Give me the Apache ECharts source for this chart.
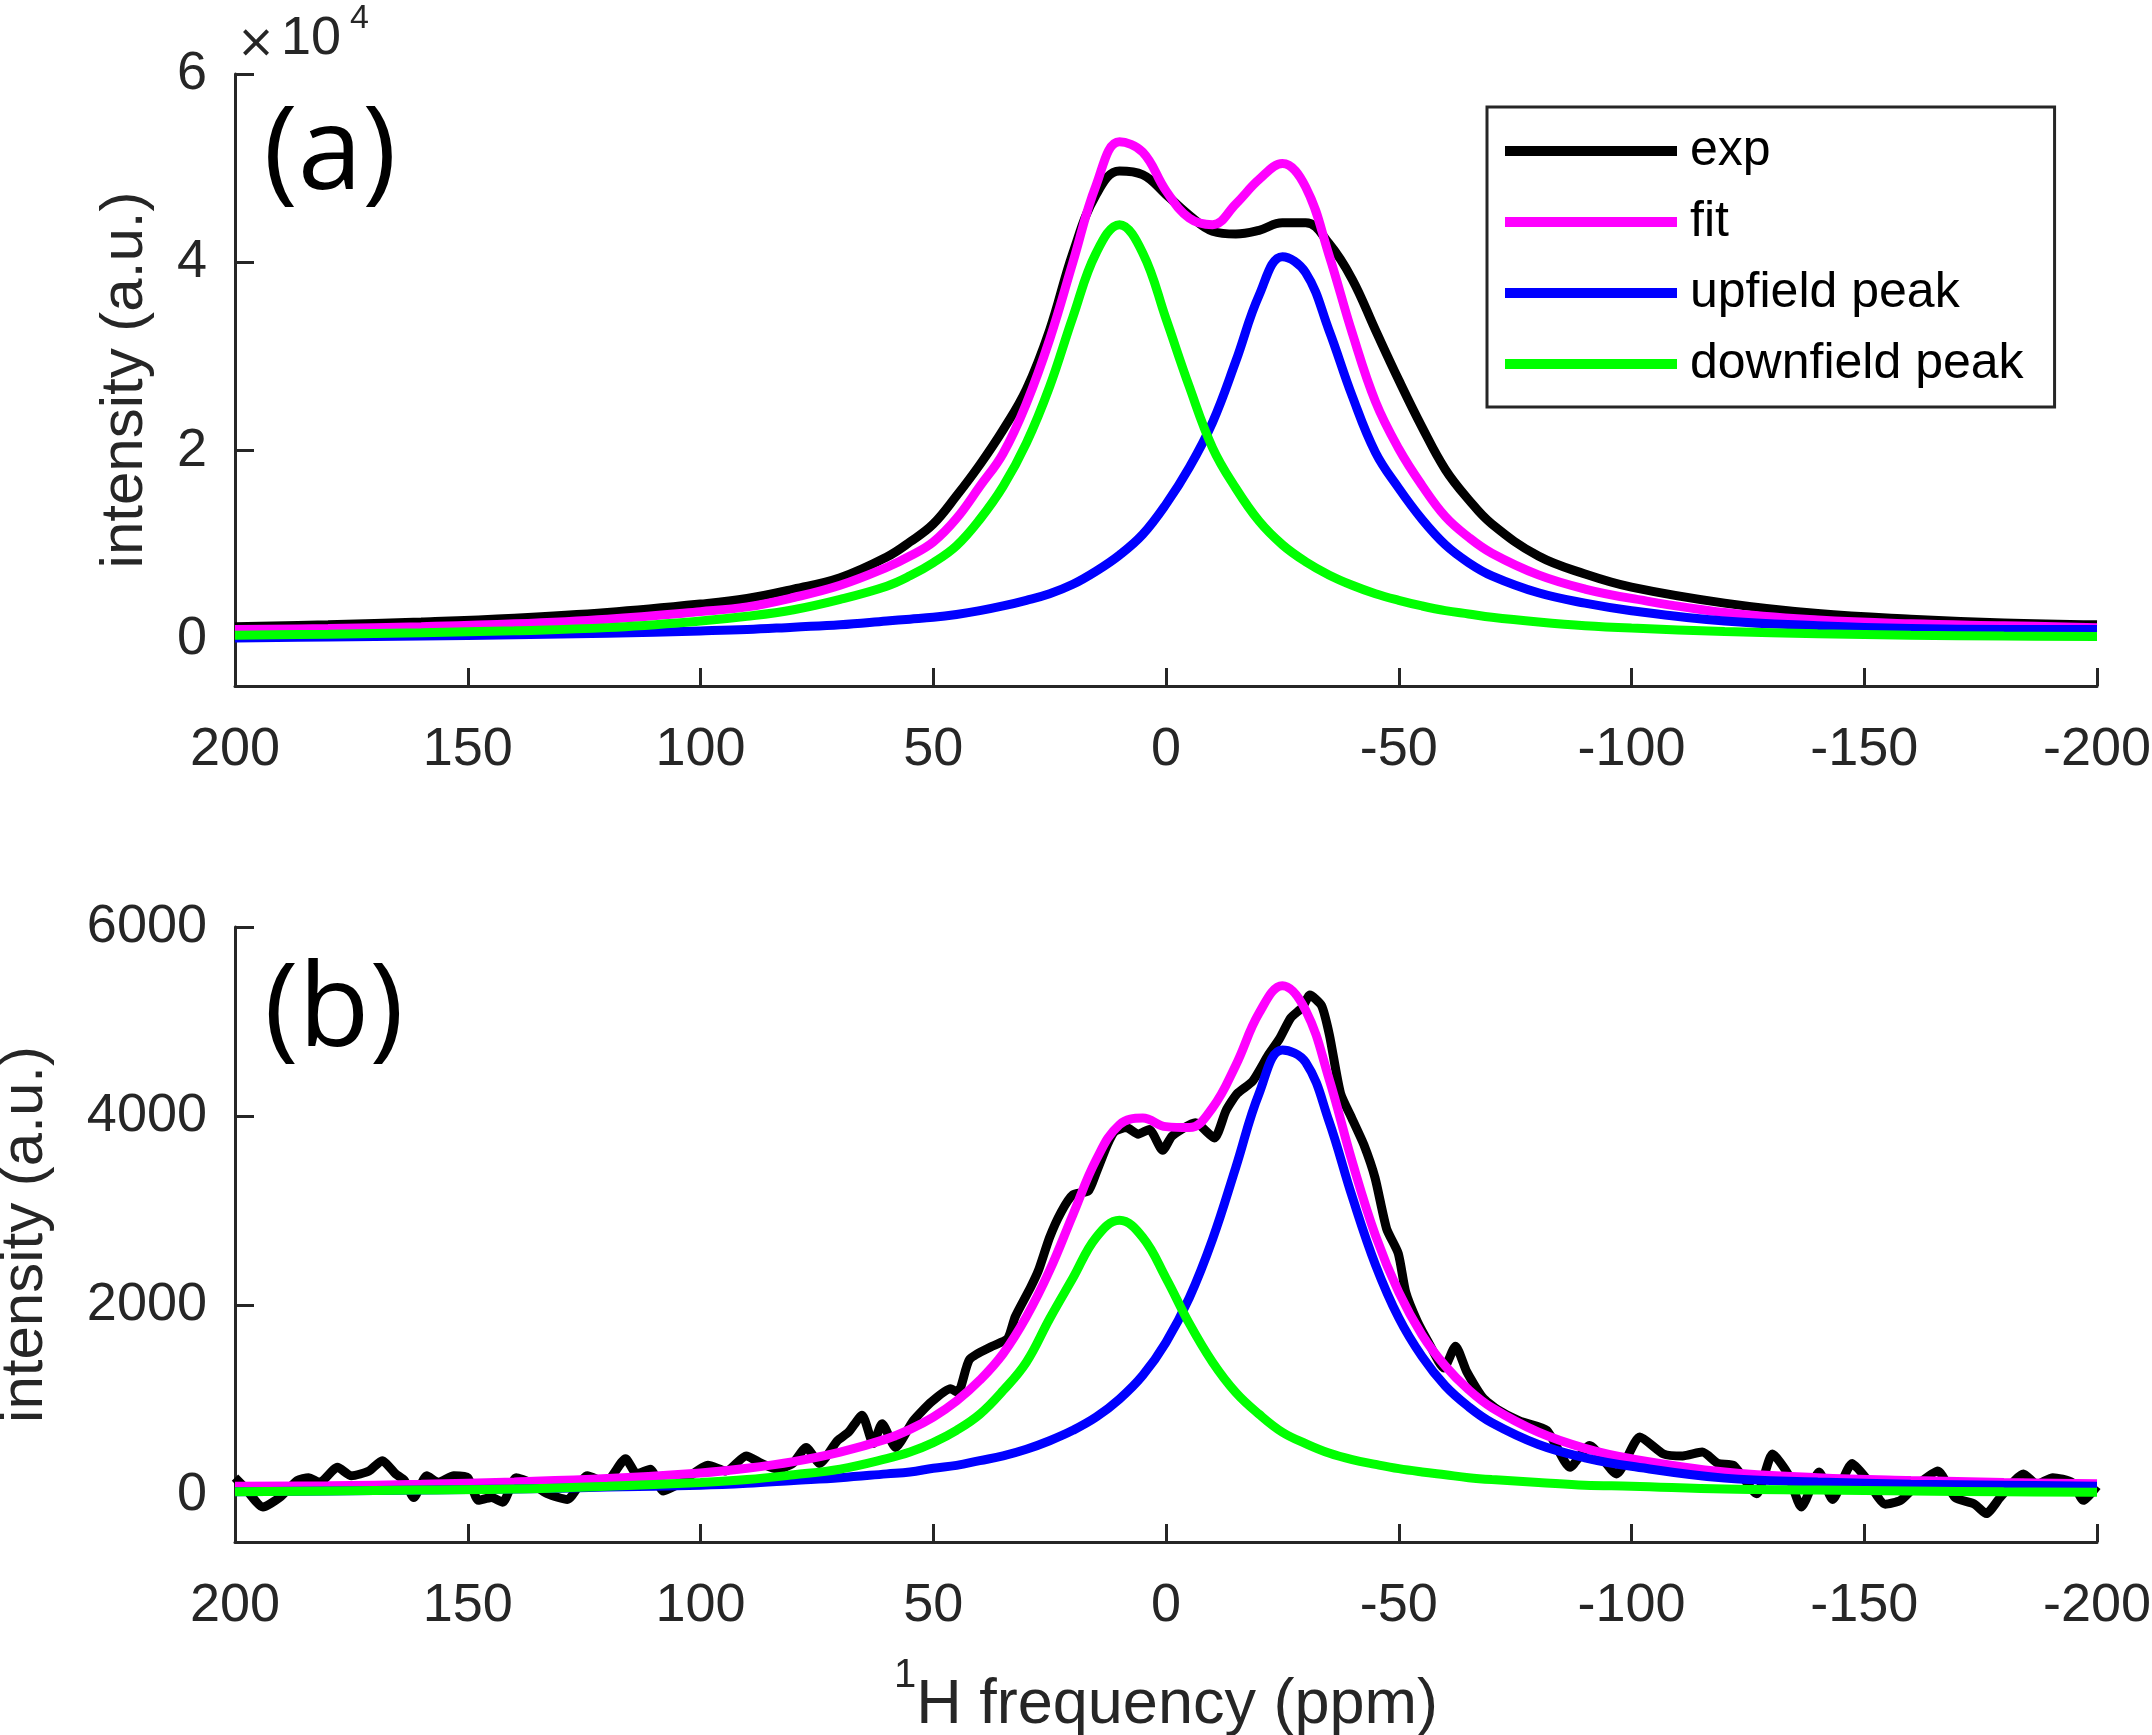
<!DOCTYPE html>
<html>
<head>
<meta charset="utf-8">
<script src="https://cdn.jsdelivr.net/npm/echarts@6/dist/echarts.min.js"></script>
<style>
  html, body { margin: 0; padding: 0; background: #fff; }
  #chart { width: 2152px; height: 1735px; }
</style>
</head>
<body>
<div id="chart"></div>
<script>
// shared ppm grid for the fitted curves (both panels)
const ppmFit = [200, 180, 160, 140, 120, 100, 90, 80, 70, 60, 55, 50, 45, 40, 35, 30, 25, 20, 15, 10,
  5, 0, -5, -10, -15, -20, -25, -30, -35, -40, -45, -50, -55, -60, -65, -70, -80, -90, -100, -120,
  -140, -160, -180, -200];

// panel (a), values in units of 10^4
const aExp = [0.13, 0.15, 0.18, 0.22, 0.28, 0.37, 0.43, 0.53, 0.65, 0.87, 1.03, 1.22, 1.52, 1.85, 2.22, 2.65, 3.28, 4.10, 4.72, 4.97,
  4.93, 4.72, 4.50, 4.33, 4.30, 4.34, 4.42, 4.42, 4.20, 3.82, 3.28, 2.75, 2.25, 1.80, 1.48, 1.22, 0.88, 0.69, 0.55, 0.38,
  0.27, 0.21, 0.17, 0.15];
const aFit = [0.10, 0.11, 0.13, 0.16, 0.21, 0.29, 0.34, 0.44, 0.57, 0.76, 0.88, 1.03, 1.28, 1.62, 1.97, 2.50, 3.18, 4.00, 4.82, 5.28,
  5.17, 4.76, 4.47, 4.40, 4.62, 4.88, 5.05, 4.80, 4.08, 3.25, 2.52, 2.02, 1.63, 1.30, 1.08, 0.91, 0.68, 0.53, 0.43, 0.28,
  0.20, 0.16, 0.14, 0.12];
const aUp = [0.01, 0.02, 0.03, 0.045, 0.06, 0.085, 0.10, 0.125, 0.15, 0.19, 0.21, 0.23, 0.26, 0.30, 0.35, 0.41, 0.48, 0.58, 0.72, 0.89,
  1.11, 1.43, 1.82, 2.30, 2.95, 3.65, 4.06, 3.89, 3.28, 2.58, 1.98, 1.60, 1.27, 1.00, 0.81, 0.67, 0.49, 0.38, 0.30, 0.19,
  0.14, 0.11, 0.10, 0.10];
const aDown = [0.04, 0.05, 0.066, 0.087, 0.12, 0.19, 0.24, 0.31, 0.42, 0.56, 0.67, 0.81, 0.99, 1.27, 1.62, 2.08, 2.68, 3.42, 4.10, 4.40,
  4.10, 3.40, 2.68, 2.03, 1.60, 1.25, 1.00, 0.82, 0.68, 0.57, 0.48, 0.41, 0.35, 0.30, 0.265, 0.23, 0.18, 0.14, 0.115, 0.08,
  0.055, 0.04, 0.03, 0.025];

// panel (b)
const bFit = [90, 95, 110, 135, 170, 230, 280, 350, 450, 590, 690, 820, 990, 1210, 1490, 1880, 2370, 2960, 3540, 3910,
  3980, 3890, 3880, 4090, 4540, 5090, 5380, 5120, 4400, 3520, 2740, 2140, 1690, 1360, 1110, 920, 660, 490, 380, 240,
  180, 150, 130, 115];
const bUp = [30, 40, 50, 60, 80, 100, 120, 150, 180, 220, 240, 280, 310, 360, 410, 480, 570, 680, 820, 1010,
  1260, 1610, 2080, 2700, 3460, 4240, 4700, 4570, 3950, 3150, 2430, 1870, 1460, 1150, 930, 760, 530, 390, 300, 175,
  135, 110, 100, 90];
const bDown = [30, 40, 50, 60, 90, 130, 160, 210, 270, 380, 450, 550, 680, 850, 1100, 1400, 1860, 2290, 2720, 2900,
  2720, 2290, 1810, 1400, 1080, 850, 660, 540, 440, 370, 320, 275, 240, 210, 180, 160, 130, 100, 90, 60,
  50, 40, 30, 25];

// noisy experimental trace of panel (b)
const bExpPpm = [200, 198, 194, 190.4, 186.6, 184.2, 181.8, 178, 175, 171.2,
  168.4, 165.5, 163.6, 161.6, 158.8, 156.4, 153, 150, 147.7, 144.9,
  142.5, 139.6, 136.7, 132.9, 128.6, 124.3, 120.4, 116.1, 113.7, 110.8,
  108, 104.1, 98.4, 94.5, 90.2, 86.9, 83.5, 80.2, 77.3, 74.4,
  70.6, 68.2, 65.3, 62.9, 61, 58.1, 54.3, 50.4, 46.3, 44.7,
  42.2, 37.3, 34, 32.4, 29.1, 27.4, 25, 22.5, 20, 16.7,
  15.1, 12.6, 11, 8.5, 6, 3.6, 0.7, -1.3, -6.3, -10.4,
  -12.9, -15.3, -18.6, -21.9, -24.4, -26.8, -29.3, -30.9, -33.4, -35.1,
  -37.5, -40, -42.5, -44.9, -47.4, -49.9, -51.5, -54, -56.4, -59.7,
  -62.2, -64.6, -68, -71.2, -75.9, -81.8, -86.8, -91, -96.8, -101.8,
  -106.9, -111, -115.2, -118.6, -121.9, -126.9, -130.3, -133.6, -136.5, -140.3,
  -143.2, -147.4, -150.3, -154.5, -157.8, -160.8, -165.8, -169.5, -173.7, -176.2,
  -179.2, -184.2, -187.1, -190.5, -194.6, -197.1, -200];
const bExpVal = [180, 80, -130, -30, 150, 180, 130, 290, 200, 250,
  360, 220, 150, -30, 200, 130, 200, 180, -60, -30,
  -80, 180, 130, 10, -50, 200, 130, 380, 220, 270,
  40, 130, 310, 250, 410, 330, 270, 330, 500, 330,
  570, 660, 840, 540, 750, 500, 780, 980, 1120, 1080,
  1430, 1570, 1650, 1880, 2190, 2370, 2720, 2990, 3170, 3210,
  3390, 3700, 3840, 3880, 3810, 3860, 3640, 3790, 3930, 3770,
  4060, 4240, 4370, 4640, 4820, 5040, 5150, 5280, 5170, 4860,
  4240, 3970, 3700, 3350, 2810, 2550, 2140, 1830, 1610, 1340,
  1570, 1300, 1030, 900, 780, 680, 290, 520, 220, 610,
  430, 410, 450, 330, 310, 10, 430, 220, -130, 240,
  -50, 330, 180, -100, -60, 80, 250, -30, -100, -200,
  -30, 220, 110, 180, 130, -60, 90];

const aTicks = [0, 2, 4, 6];
const bTicks = [0, 2000, 4000, 6000];
const names = ['exp', 'fit', 'upfield peak', 'downfield peak'];
const colors = ['#000000', '#ff00ff', '#0000ff', '#00ff00'];

const axisColor = '#262626';
const font = 'Liberation Sans';

function pairs(xs, ys) {
  return xs.map((x, i) => [x, ys[i]]);
}

function xAxisCfg(idx, extra) {
  return Object.assign({
    type: 'value', gridIndex: idx, min: -200, max: 200, interval: 50, inverse: true,
    axisLine: { show: true, onZero: false, lineStyle: { color: axisColor, width: 3 } },
    axisTick: { show: true, inside: true, length: 18, lineStyle: { color: axisColor, width: 3 } },
    axisLabel: { color: axisColor, fontSize: 54, fontFamily: font, margin: 37, showMinLabel: true, showMaxLabel: true },
    splitLine: { show: false }
  }, extra || {});
}

function yAxisCfg(idx, min, max, ticks, gap) {
  return {
    type: 'value', gridIndex: idx, min: min, max: max,
    axisLine: { show: true, onZero: false, lineStyle: { color: axisColor, width: 3 } },
    axisTick: { show: true, inside: true, length: 19, customValues: ticks, lineStyle: { color: axisColor, width: 3 } },
    axisLabel: {
      color: axisColor, fontSize: 54, fontFamily: font, margin: 28, customValues: ticks,
      formatter: function (v) { return String(v); }
    },
    splitLine: { show: false },
    name: 'intensity (a.u.)', nameLocation: 'middle', nameRotate: 90, nameGap: gap,
    nameTextStyle: { color: axisColor, fontSize: 60, fontFamily: font }
  };
}

function lineSeries(name, color, data, xi, yi, smooth, z) {
  return {
    name: name, type: 'line', xAxisIndex: xi, yAxisIndex: yi, data: data,
    showSymbol: false, symbol: 'none', smooth: smooth, z: z,
    lineStyle: { color: color, width: 9 }, itemStyle: { color: color },
    animation: false
  };
}

const chart = echarts.init(document.getElementById('chart'));
chart.setOption({
  backgroundColor: '#ffffff',
  animation: false,
  grid: [
    { left: 235, top: 74, width: 1862, height: 612, containLabel: false, outerBoundsMode: 'none' },
    { left: 235, top: 927, width: 1862, height: 615, containLabel: false, outerBoundsMode: 'none' }
  ],
  xAxis: [
    xAxisCfg(0),
    xAxisCfg(1, {
      name: '{s|1}{t|H frequency (ppm)}', nameLocation: 'middle', nameGap: 114,
      nameTextStyle: {
        color: axisColor, fontFamily: font,
        rich: {
          s: { fontSize: 40, fontFamily: font, color: axisColor, verticalAlign: 'top', lineHeight: 24 },
          t: { fontSize: 63, fontFamily: font, color: axisColor, lineHeight: 100 }
        }
      }
    })
  ],
  yAxis: [
    yAxisCfg(0, -0.5, 6, aTicks, 80),
    yAxisCfg(1, -500, 6000, bTicks, 180)
  ],
  legend: {
    data: names, orient: 'vertical', left: 1487, top: 107,
    icon: 'rect', itemWidth: 172, itemHeight: 10, itemGap: 11,
    padding: [14, 31, 13, 18],
    borderColor: axisColor, borderWidth: 3, backgroundColor: '#fff',
    selectedMode: false,
    textStyle: { fontSize: 50, fontFamily: font, color: '#000', lineHeight: 60, padding: [0, 0, 0, 8] }
  },
  graphic: [
    { type: 'text', style: { x: 330, y: 156, text: '(a)', font: '116px "Open Sans", sans-serif', fill: '#000', align: 'center', verticalAlign: 'middle' } },
    { type: 'text', style: { x: 334, y: 1013, text: '(b)', font: '116px "Open Sans", sans-serif', fill: '#000', align: 'center', verticalAlign: 'middle' } },
    { type: 'text', style: { x: 256, y: 45, text: '×', font: '46px "DejaVu Sans", sans-serif', fill: axisColor, align: 'center', verticalAlign: 'middle' } },
    { type: 'text', style: { x: 281, y: 39, text: '10', font: '54px "Liberation Sans", sans-serif', fill: axisColor, verticalAlign: 'middle' } },
    { type: 'text', style: { x: 350, y: 19, text: '4', font: '34px "Liberation Sans", sans-serif', fill: axisColor, verticalAlign: 'middle' } }
  ],
  series: [
    lineSeries(names[0], colors[0], pairs(ppmFit, aExp), 0, 0, 0.4, 2),
    lineSeries(names[1], colors[1], pairs(ppmFit, aFit), 0, 0, 0.4, 3),
    lineSeries(names[2], colors[2], pairs(ppmFit, aUp), 0, 0, 0.4, 4),
    lineSeries(names[3], colors[3], pairs(ppmFit, aDown), 0, 0, 0.4, 5),
    lineSeries(names[0], colors[0], pairs(bExpPpm, bExpVal), 1, 1, 0.2, 2),
    lineSeries(names[1], colors[1], pairs(ppmFit, bFit), 1, 1, 0.4, 3),
    lineSeries(names[2], colors[2], pairs(ppmFit, bUp), 1, 1, 0.4, 4),
    lineSeries(names[3], colors[3], pairs(ppmFit, bDown), 1, 1, 0.4, 5)
  ]
});
</script>
</body>
</html>
